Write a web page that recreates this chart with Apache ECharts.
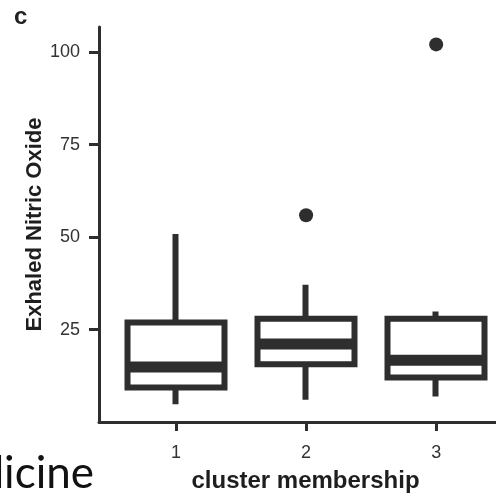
<!DOCTYPE html>
<html>
<head>
<meta charset="utf-8">
<script src="https://cdn.jsdelivr.net/npm/echarts@6/dist/echarts.min.js"></script>
<style>
  html, body { margin: 0; padding: 0; background: #fff; }
  #chart { width: 496px; height: 498px; }
</style>
</head>
<body>
<div id="chart"></div>
<script>
// cluster membership -> box stats of exhaled nitric oxide
const clusters = [1, 2, 3]
const whiskerLow = [4.8, 6.0, 6.9]
const q1 = [9.3, 15.6, 12.0]
const medians = [14.9, 21.1, 16.7]
const q3 = [26.9, 27.9, 27.9]
const whiskerHigh = [50.8, 37.1, 29.9]
const outliers = [[2, 55.9], [3, 102.1]]
const yTicks = [25, 50, 75, 100]

const ink = '#2e2e2e'

// candlestick draws box + whiskers without end caps: [x, open, close, low, high]
const boxData = clusters.map((c, i) => [c, q1[i], q3[i], whiskerLow[i], whiskerHigh[i]])
const medianData = clusters.map((c, i) => [c, medians[i]])

const option = {
    animation: false,
    backgroundColor: '#fff',
    grid: { left: 99, right: 0, top: 27, bottom: 74 },
    graphic: [
        {
            type: 'text', left: 14, top: 5,
            style: { text: 'c', font: 'bold 24px "Liberation Sans", Arial', fill: '#222' }
        },
        {
            type: 'text', x: 94, y: 474,
            style: {
                text: 'Medicine', font: '44px Lato, "Open Sans", sans-serif', fill: '#111',
                align: 'right', verticalAlign: 'middle'
            }
        }
    ],
    xAxis: {
        type: 'value',
        min: 0.408,
        max: 3.46,
        name: 'cluster membership',
        nameLocation: 'middle',
        nameGap: 47,
        nameMoveOverlap: false,
        nameTextStyle: {
            fontFamily: '"Liberation Sans", Arial', fontWeight: 'bold', fontSize: 24,
            color: '#1e1e1e', padding: [0, 0, 0, 16]
        },
        splitLine: { show: false },
        axisLine: { show: true, onZero: false, lineStyle: { color: ink, width: 3 } },
        axisTick: { show: true, customValues: clusters, length: 9, lineStyle: { color: ink, width: 3 } },
        axisLabel: {
            customValues: clusters, margin: 22,
            fontFamily: '"Liberation Sans", Arial', fontSize: 18, color: '#333'
        }
    },
    yAxis: {
        type: 'value',
        min: 0,
        max: 106.8,
        name: 'Exhaled Nitric Oxide',
        nameLocation: 'middle',
        nameGap: 53,
        nameMoveOverlap: false,
        nameTextStyle: {
            fontFamily: '"Liberation Sans", Arial', fontWeight: 'bold', fontSize: 22, color: '#1e1e1e'
        },
        splitLine: { show: false },
        axisLine: { show: true, onZero: false, lineStyle: { color: ink, width: 3 } },
        axisTick: { show: true, customValues: yTicks, length: 10, lineStyle: { color: ink, width: 3 } },
        axisLabel: {
            customValues: yTicks, margin: 19,
            fontFamily: '"Liberation Sans", Arial', fontSize: 18, color: '#333'
        }
    },
    series: [
        {
            type: 'candlestick',
            barWidth: 97,
            data: boxData,
            itemStyle: {
                color: '#fff', color0: '#fff',
                borderColor: ink, borderColor0: ink,
                borderWidth: 6
            }
        },
        {
            type: 'scatter',
            data: medianData,
            symbol: 'rect',
            symbolSize: [97, 11],
            itemStyle: { color: ink, opacity: 1 }
        },
        {
            type: 'scatter',
            data: outliers,
            symbol: 'circle',
            symbolSize: 14,
            itemStyle: { color: ink, opacity: 1 }
        }
    ]
}

const chart = echarts.init(document.getElementById('chart'))
chart.setOption(option)
</script>
</body>
</html>
